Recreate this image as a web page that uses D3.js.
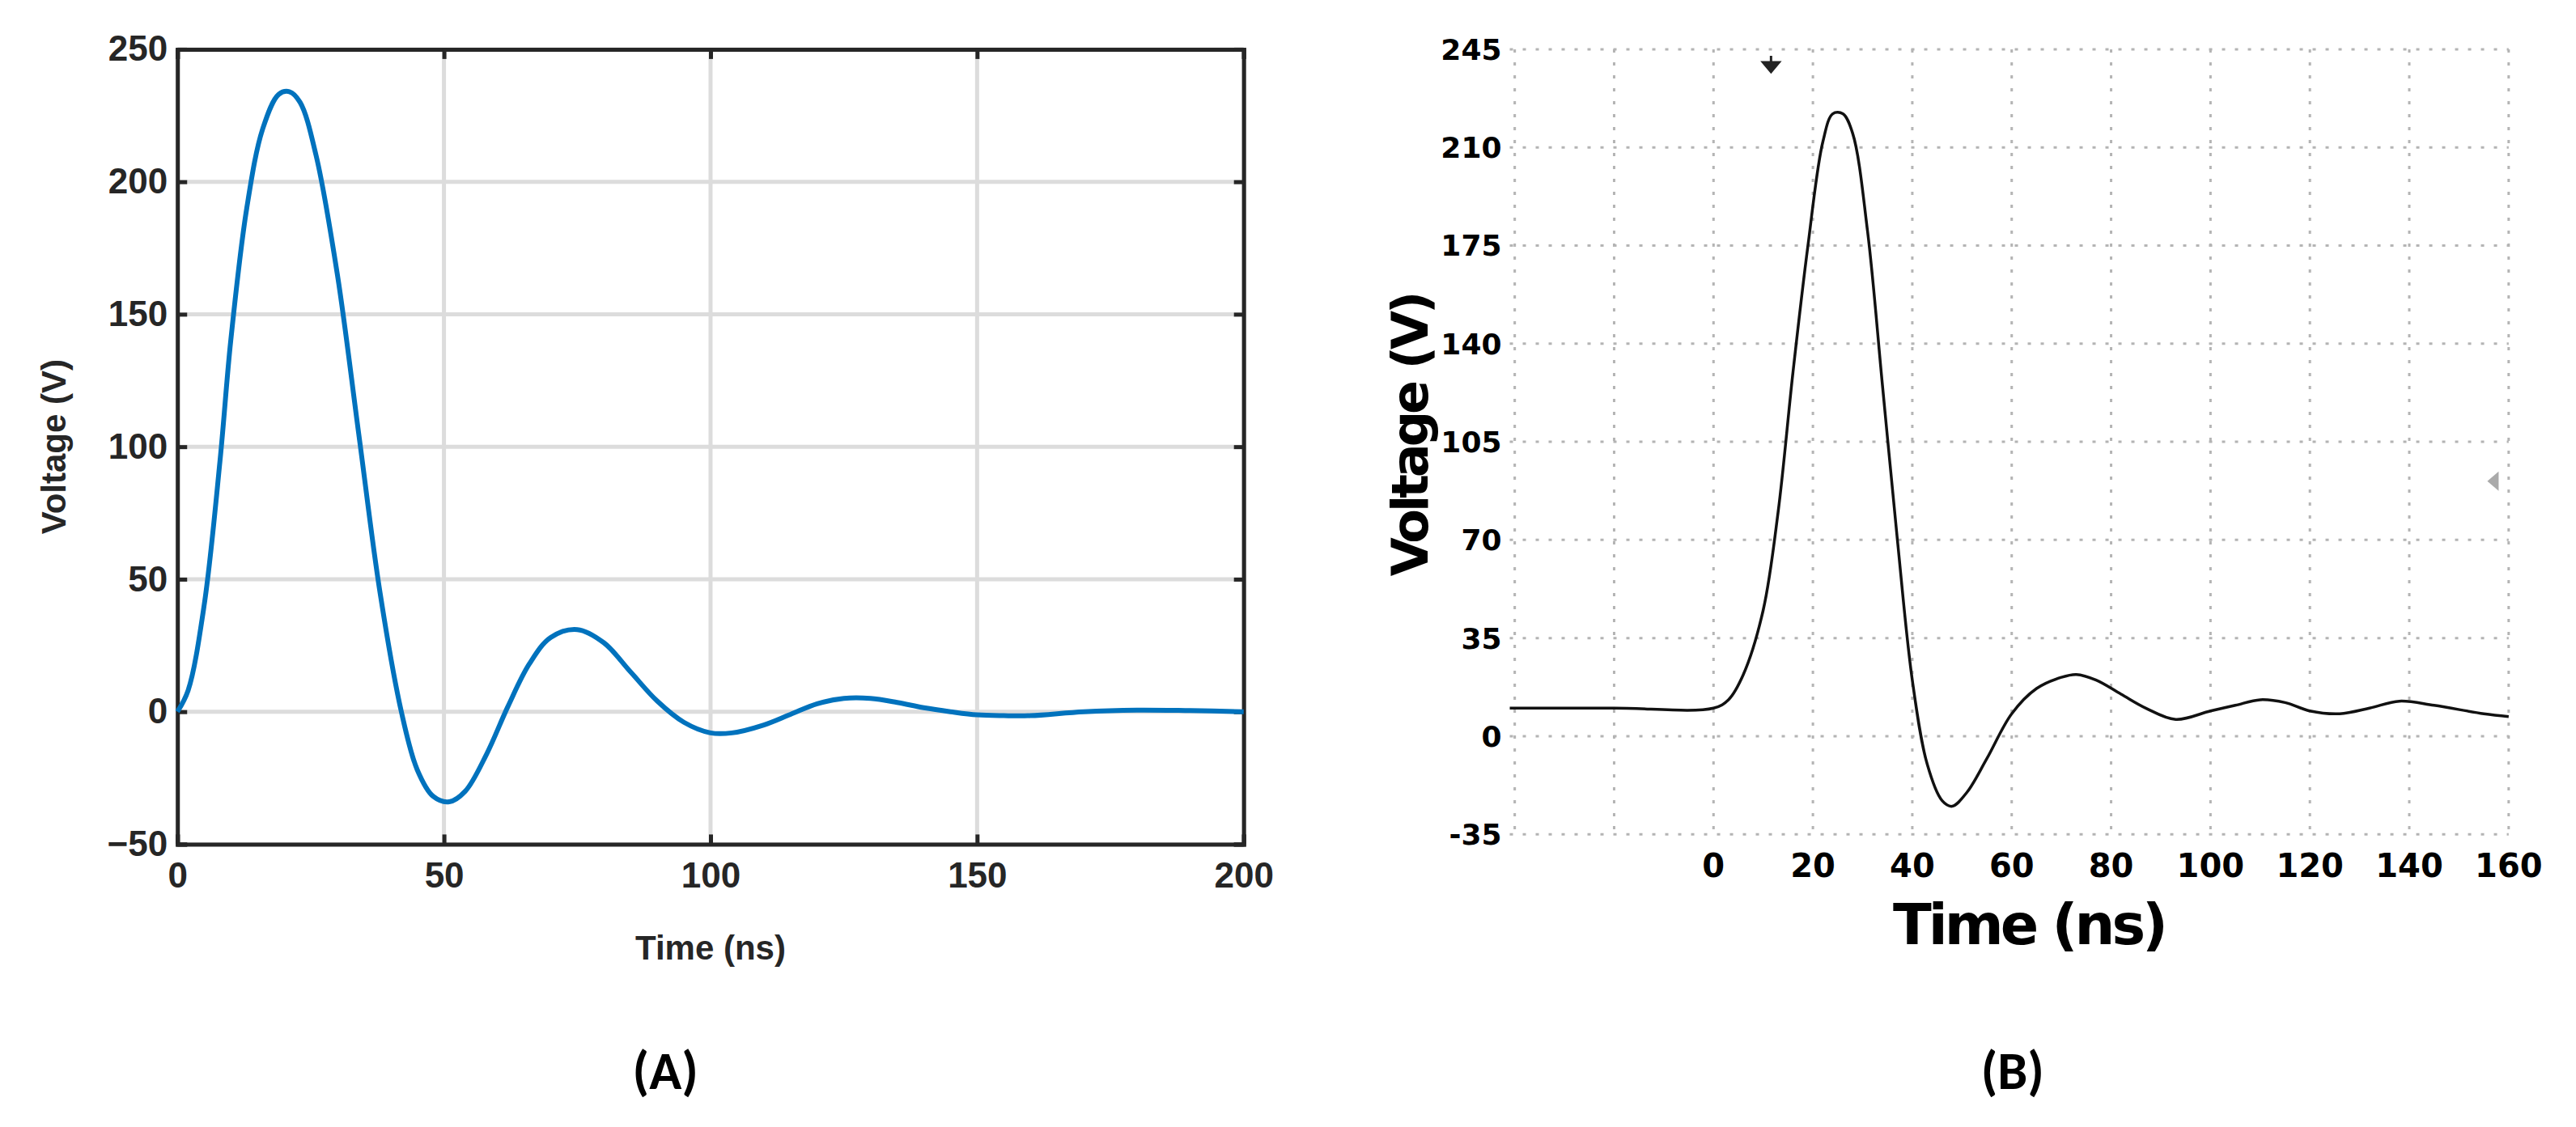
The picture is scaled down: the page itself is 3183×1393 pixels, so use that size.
<!DOCTYPE html>
<html><head><meta charset="utf-8">
<script src="https://cdn.jsdelivr.net/npm/d3@7"></script>
<style>body{margin:0;background:#fff}</style></head>
<body><div id="chart"></div>
<script>
// panel A: simulated pulse
const simTime = [0,2,5,8,10,13,16,19,21,23,26,30,34,38,42,45,48,51,54,58,62,66,70,75,80,85,90,95,100,104,110,115,120,125,130,135,140,145,150,155,160,170,180,190,200];
const simVolt = [0,8,40,95,140,190,220,233,234,230,210,165,105,45,0,-22,-32,-34,-30,-16,2,18,28,31,26,15,4,-4,-8,-8,-5,-1,3,5,5,3.5,1.5,0,-1.2,-1.5,-1.5,0,0.6,0.4,0];
const simXTicks = [0,50,100,150,200];
const simYTicks = [-50,0,50,100,150,200,250];

// panel B: measured pulse
const measTime = [-41,-20,0,3,6,10,13,16,19,22,24,26,28,31,34,37,40,43,46,48,51,55,60,65,70,73,77,82,87,93,100,105,110,115,120,126,132,138,145,155,160];
const measVolt = [10,10,10,13,22,45,80,130,175,212,222,222,215,180,125,70,20,-10,-23,-25,-20,-8,8,17,21,22,20,15,10,6,9,11,13,12,9,8,10,12.5,11,8,7];
const measXTicks = [0,20,40,60,80,100,120,140,160];
const measXGrid = [-40,-20,0,20,40,60,80,100,120,140,160];
const measYTicks = [-35,0,35,70,105,140,175,210,245];

const W = 3183, H = 1393, k = 2.03;
const svg = d3.select("#chart").append("svg").attr("width", W).attr("height", H);

// ---- panel A
{
  const x = d3.scaleLinear().domain([0,200]).range([108*k, 757*k]);
  const y = d3.scaleLinear().domain([-50,250]).range([514*k, 30*k]);
  const g = svg.append("g");
  g.selectAll(".vg").data(simXTicks).enter().append("line")
    .attr("x1", d => x(d)).attr("x2", d => x(d)).attr("y1", y(250)).attr("y2", y(-50))
    .attr("stroke", "#dcdcdc").attr("stroke-width", 5);
  g.selectAll(".hg").data(simYTicks).enter().append("line")
    .attr("x1", x(0)).attr("x2", x(200)).attr("y1", d => y(d)).attr("y2", d => y(d))
    .attr("stroke", "#dcdcdc").attr("stroke-width", 5);
  const font = "Liberation Sans, Arial, sans-serif";
  g.append("g").attr("transform", `translate(0,${y(-50)})`)
    .call(d3.axisBottom(x).tickValues(simXTicks).tickSize(-12).tickPadding(22));
  g.append("g").attr("transform", `translate(${x(0)},0)`)
    .call(d3.axisLeft(y).tickValues(simYTicks).tickSize(-12).tickPadding(12));
  g.append("g").attr("transform", `translate(0,${y(250)})`)
    .call(d3.axisTop(x).tickValues(simXTicks).tickSize(-12).tickFormat(""));
  g.append("g").attr("transform", `translate(${x(200)},0)`)
    .call(d3.axisRight(y).tickValues(simYTicks).tickSize(-12).tickFormat(""));
  g.selectAll(".domain,.tick line").attr("stroke", "#262626").attr("stroke-width", 5);
  g.selectAll(".tick text").attr("font-family", font).attr("font-size", 44)
    .attr("font-weight", "bold").attr("fill", "#262626");
  g.append("path").datum(simTime.map((t, i) => [t, simVolt[i]]))
    .attr("d", d3.line().x(d => x(d[0])).y(d => y(d[1])).curve(d3.curveCatmullRom))
    .attr("fill", "none").attr("stroke", "#0072BD").attr("stroke-width", 6);
  g.append("text").attr("x", x(100)).attr("y", 584*k).attr("text-anchor", "middle")
    .attr("font-family", font).attr("font-size", 42).attr("font-weight", "bold").attr("fill", "#262626")
    .text("Time (ns)");
  g.append("text").attr("transform", `translate(${40*k},${272*k}) rotate(-90)`).attr("text-anchor", "middle")
    .attr("font-family", font).attr("font-size", 42).attr("font-weight", "bold").attr("fill", "#262626")
    .text("Voltage (V)");
  g.append("text").attr("x", 405*k).attr("y", 663*k).attr("text-anchor", "middle")
    .attr("font-family", "Carlito, Liberation Sans, sans-serif").attr("font-size", 66).attr("font-weight", "bold")
    .text("(A)");
}

// ---- panel B
{
  const x = d3.scaleLinear().domain([0,160]).range([1043*k, 1527*k]);
  const y = d3.scaleLinear().domain([-35,245]).range([508*k, 30*k]);
  const g = svg.append("g");
  const x0 = x(-41);
  g.selectAll(".vg").data(measXGrid).enter().append("line")
    .attr("x1", d => x(d)).attr("x2", d => x(d)).attr("y1", y(245)).attr("y2", y(-35))
    .attr("stroke", "#b4b4b4").attr("stroke-width", 3).attr("stroke-dasharray", "4,12");
  g.selectAll(".hg").data(measYTicks).enter().append("line")
    .attr("x1", x0).attr("x2", x(160)).attr("y1", d => y(d)).attr("y2", d => y(d))
    .attr("stroke", "#b4b4b4").attr("stroke-width", 3).attr("stroke-dasharray", "4,12");
  const font = "Verdana, DejaVu Sans, sans-serif";
  g.selectAll(".xl").data(measXTicks).enter().append("text")
    .attr("x", d => x(d)).attr("y", 534*k).attr("text-anchor", "middle")
    .attr("font-family", font).attr("font-size", 40).attr("font-weight", "bold").text(d => d);
  g.selectAll(".yl").data(measYTicks).enter().append("text")
    .attr("x", x0 - 10).attr("y", d => y(d) + 13).attr("text-anchor", "end")
    .attr("font-family", font).attr("font-size", 36).attr("font-weight", "bold").text(d => d);
  g.append("path").datum(measTime.map((t, i) => [t, measVolt[i]]))
    .attr("d", d3.line().x(d => x(d[0])).y(d => y(d[1])).curve(d3.curveCatmullRom))
    .attr("fill", "none").attr("stroke", "#111").attr("stroke-width", 3.5);
  // scope markers
  g.append("path").attr("d", `M${1078*k},${34*k} l0,8 m-10,0 l20,0 l-10,12 z`)
    .attr("stroke", "#222").attr("stroke-width", 3).attr("fill", "#222");
  g.append("path").attr("d", `M${1514*k},${293*k} l14,-12 l0,24 z`).attr("fill", "#aaa");
  g.append("text").attr("x", 1235*k).attr("y", 575*k).attr("text-anchor", "middle")
    .attr("font-family", font).attr("font-size", 70).attr("font-weight", "bold").attr("letter-spacing", -4)
    .text("Time (ns)");
  g.append("text").attr("transform", `translate(${869*k},${265*k}) rotate(-90)`).attr("text-anchor", "middle")
    .attr("font-family", font).attr("font-size", 62).attr("font-weight", "bold").attr("letter-spacing", -4)
    .text("Voltage (V)");
  g.append("text").attr("x", 1225*k).attr("y", 663*k).attr("text-anchor", "middle")
    .attr("font-family", "Carlito, Liberation Sans, sans-serif").attr("font-size", 66).attr("font-weight", "bold")
    .text("(B)");
}
</script></body></html>
